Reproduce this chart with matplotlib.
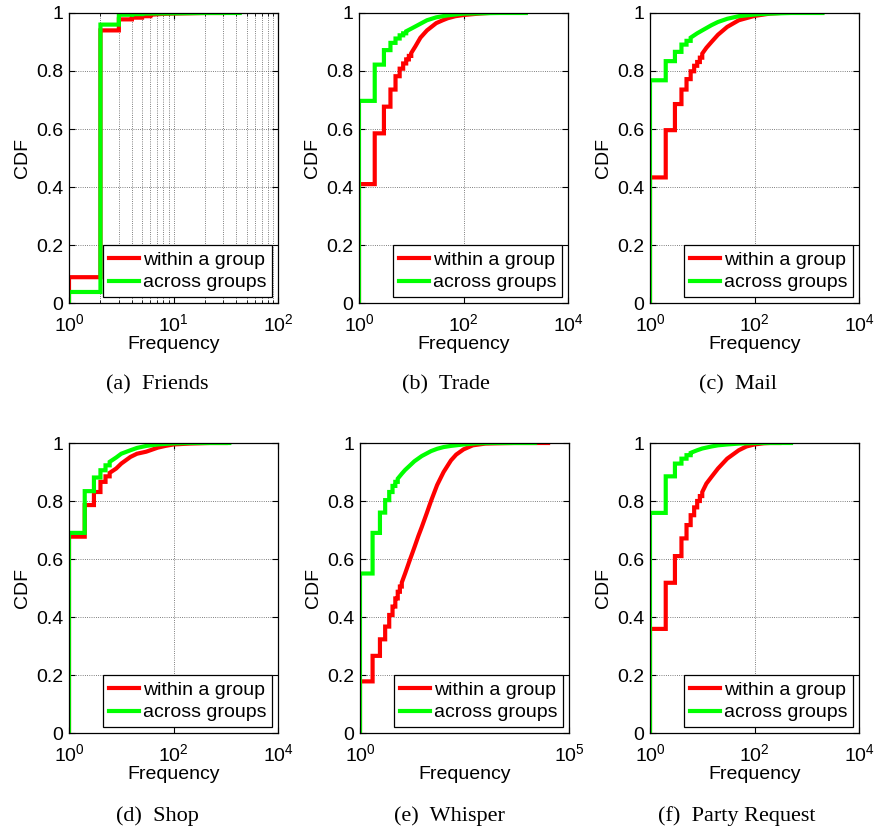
import matplotlib.pyplot as plt
from matplotlib.ticker import FixedLocator, NullLocator, LogLocator, FuncFormatter
import numpy as np

plt.rcParams['font.family'] = ['Liberation Sans', 'DejaVu Sans']
plt.rcParams['mathtext.fontset'] = 'custom'
plt.rcParams['mathtext.rm'] = 'Liberation Sans'
plt.rcParams['mathtext.it'] = 'Liberation Sans'
plt.rcParams['mathtext.default'] = 'regular'

# CDF of interaction frequency, within a group vs. across groups
titles = ['(a)  Friends', '(b)  Trade', '(c)  Mail',
          '(d)  Shop', '(e)  Whisper', '(f)  Party Request']
xmax = [1e2, 1e4, 1e4, 1e4, 1e5, 1e4]

# Friends
friends_in_x = [1, 2, 3, 4, 5, 6, 8, 10, 20, 30]
friends_in_y = [0.089, 0.94, 0.978, 0.984, 0.989, 0.994, 0.997, 0.998, 1.0, 1.0]
friends_out_x = [1, 2, 3, 4, 5, 10, 20, 43]
friends_out_y = [0.038, 0.96, 0.994, 0.996, 0.998, 0.999, 1.0, 1.0]

# Trade
trade_in_x = [1, 2, 3, 4, 5, 6, 7, 8, 9, 10, 12, 15, 20, 30, 40, 50, 70, 100, 150, 200, 300]
trade_in_y = [0.41, 0.585, 0.677, 0.736, 0.782, 0.808, 0.826, 0.84, 0.852, 0.862, 0.885,
              0.915, 0.94, 0.965, 0.975, 0.982, 0.989, 0.993, 0.996, 0.998, 1.0]
trade_out_x = [1, 2, 3, 4, 5, 6, 7, 8, 10, 15, 20, 30, 50, 100, 200, 500, 1560]
trade_out_y = [0.697, 0.822, 0.872, 0.897, 0.912, 0.923, 0.93, 0.937, 0.946, 0.963,
               0.975, 0.985, 0.992, 0.998, 0.999, 1.0, 1.0]

# Mail
mail_in_x = [1, 2, 3, 4, 5, 6, 7, 8, 9, 10, 12, 15, 20, 30, 50, 100, 200, 300]
mail_in_y = [0.433, 0.596, 0.686, 0.736, 0.772, 0.799, 0.818, 0.831, 0.846, 0.86, 0.88,
             0.9, 0.925, 0.952, 0.975, 0.99, 0.998, 1.0]
mail_out_x = [1, 2, 3, 4, 5, 6, 8, 10, 15, 20, 30, 50, 100, 200, 500, 2000]
mail_out_y = [0.768, 0.834, 0.866, 0.891, 0.904, 0.915, 0.93, 0.94, 0.958, 0.969,
              0.98, 0.989, 0.995, 0.998, 1.0, 1.0]

# Shop
shop_in_x = [1, 2, 3, 4, 5, 6, 8, 10, 15, 20, 30, 50, 70, 100, 200, 500, 1000]
shop_in_y = [0.677, 0.786, 0.831, 0.866, 0.885, 0.897, 0.912, 0.929, 0.952, 0.963,
             0.97, 0.984, 0.99, 0.995, 0.998, 1.0, 1.0]
shop_out_x = [1, 2, 3, 4, 5, 6, 8, 10, 15, 20, 30, 50, 100, 200, 1170]
shop_out_y = [0.69, 0.834, 0.881, 0.906, 0.923, 0.935, 0.95, 0.963, 0.975, 0.983,
              0.99, 0.995, 0.999, 1.0, 1.0]

# Whisper
whisper_in_x = [1, 2, 3, 4, 5, 6, 7, 8, 9, 10, 12, 15, 20, 25, 30, 40, 50, 70, 100,
                150, 200, 300, 500, 1000, 2000, 5000, 31600]
whisper_in_y = [0.178, 0.266, 0.323, 0.367, 0.407, 0.436, 0.464, 0.487, 0.505, 0.519,
                0.55, 0.59, 0.64, 0.68, 0.71, 0.76, 0.8, 0.855, 0.9, 0.94, 0.96, 0.978,
                0.992, 0.998, 0.999, 1.0, 1.0]
whisper_out_x = [1, 2, 3, 4, 5, 6, 7, 8, 10, 12, 15, 20, 30, 50, 70, 100, 150, 300,
                 600, 1300, 15400]
whisper_out_y = [0.55, 0.69, 0.76, 0.803, 0.831, 0.852, 0.866, 0.877, 0.894, 0.907,
                 0.92, 0.937, 0.955, 0.972, 0.98, 0.986, 0.99, 0.995, 0.999, 1.0, 1.0]

# Party Request
party_in_x = [1, 2, 3, 4, 5, 6, 7, 8, 9, 10, 12, 15, 20, 30, 50, 70, 100, 150, 200, 300]
party_in_y = [0.359, 0.518, 0.61, 0.671, 0.717, 0.751, 0.778, 0.8, 0.817, 0.831, 0.86,
              0.883, 0.912, 0.946, 0.975, 0.988, 0.995, 0.999, 1.0, 1.0]
party_out_x = [1, 2, 3, 4, 5, 6, 8, 10, 15, 20, 30, 50, 100, 500]
party_out_y = [0.759, 0.885, 0.929, 0.946, 0.958, 0.966, 0.975, 0.981, 0.988, 0.992,
               0.995, 0.998, 1.0, 1.0]

within = [(friends_in_x, friends_in_y), (trade_in_x, trade_in_y), (mail_in_x, mail_in_y),
          (shop_in_x, shop_in_y), (whisper_in_x, whisper_in_y), (party_in_x, party_in_y)]
across = [(friends_out_x, friends_out_y), (trade_out_x, trade_out_y), (mail_out_x, mail_out_y),
          (shop_out_x, shop_out_y), (whisper_out_x, whisper_out_y), (party_out_x, party_out_y)]


def cdf_path(xs, ys):
    # unit-spaced values are drawn as steps; wider gaps stand for many tiny
    # steps, so they are joined directly
    px, py = [xs[0]], [0.0]
    for k in range(len(xs)):
        px.append(xs[k])
        py.append(ys[k])
        if k + 1 < len(xs) and xs[k + 1] - xs[k] <= 1:
            px.append(xs[k + 1])
            py.append(ys[k])
    return px, py


W, H = 877, 834
fig = plt.figure(figsize=(W / 100, H / 100), dpi=100)

# panel boxes in pixels: left, top
lefts = [69, 359, 650, 69, 360, 650]
tops = [13, 13, 13, 443, 443, 443]
cap_x = [157, 446, 738, 157, 449, 737]
cap_y = [385, 385, 385, 816, 816, 816]
aw, ah = 209, 290
fs = 14

fmt = FuncFormatter(lambda v, p: '%g' % v)

for i in range(6):
    ax = fig.add_axes([lefts[i] / W, 1 - (tops[i] + ah) / H, aw / W, ah / H])
    for (xs, ys), c, lab in [(within[i], 'red', 'within a group'),
                             (across[i], '#00ff00', 'across groups')]:
        px, py = cdf_path(xs, ys)
        ax.plot(px, py, color=c, lw=3, label=lab, solid_joinstyle='miter')
    ax.set_xscale('log')
    ax.set_xlim(1, xmax[i])
    ax.set_ylim(0, 1)
    ax.set_yticks([0, 0.2, 0.4, 0.6, 0.8, 1])
    ax.yaxis.set_major_formatter(fmt)
    if i == 0:
        ax.xaxis.set_major_locator(FixedLocator([1, 10, 100]))
        ax.xaxis.set_minor_locator(LogLocator(base=10, subs=np.arange(2, 10)))
        ax.grid(True, which='both', axis='x', linestyle=':', color='#555555', lw=0.6)
    elif i == 4:
        ax.xaxis.set_major_locator(FixedLocator([1, 1e5]))
        ax.xaxis.set_minor_locator(NullLocator())
        ax.grid(True, which='major', axis='x', linestyle=':', color='#555555', lw=0.6)
    else:
        ax.xaxis.set_major_locator(FixedLocator([1, 1e2, 1e4]))
        ax.xaxis.set_minor_locator(NullLocator())
        ax.grid(True, which='major', axis='x', linestyle=':', color='#555555', lw=0.6)
    ax.grid(True, which='major', axis='y', linestyle=':', color='#555555', lw=0.6)
    ax.tick_params(which='both', direction='in', top=True, right=True, labelsize=fs)
    ax.tick_params(axis='x', pad=7)
    ax.tick_params(axis='y', pad=4)
    ax.tick_params(which='major', length=4)
    ax.tick_params(which='minor', length=2)
    for s in ax.spines.values():
        s.set_linewidth(0.9)
    ax.set_xlabel('Frequency', fontsize=fs, labelpad=1)
    ax.set_ylabel('CDF', fontsize=fs, labelpad=4)
    leg = ax.legend(loc='lower right', fontsize=fs, handlelength=1.55, handletextpad=0.2,
                    borderpad=0.3, labelspacing=0.25, borderaxespad=0.3, fancybox=False,
                    framealpha=1, edgecolor='black')
    leg.get_frame().set_linewidth(0.9)
    fig.text(cap_x[i] / W, 1 - cap_y[i] / H, titles[i], ha='center', va='center',
             fontsize=16, family='Liberation Serif')

fig.savefig('out.png', dpi=100)
